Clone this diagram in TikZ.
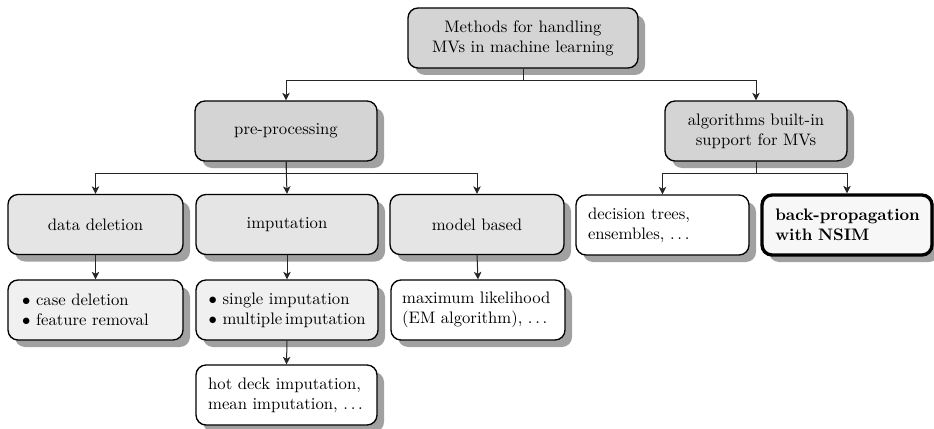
\documentclass[tikz,border=0pt]{standalone}
\usetikzlibrary{shadows,arrows.meta}
\begin{document}
\begin{tikzpicture}[x=0.6pt,y=-0.6pt,
  box/.style={draw=black, line width=0.8pt, rectangle, rounded corners=6pt,
    minimum height=36pt, inner sep=0pt, align=center, font=\normalsize,
    drop shadow={shadow xshift=4.2pt, shadow yshift=-4.2pt, fill=black!37, opacity=1}},
  conn/.style={draw=black!85, line width=0.6pt, -{Stealth[length=4.5pt,width=4.5pt,inset=1.2pt]}}]
\useasboundingbox (0,0) rectangle (934,429);
% nodes
\node[box, fill=black!17, minimum width=138pt] (top) at (523,38) {Methods for handling\\MVs in machine learning};
\node[box, fill=black!17, minimum width=109.2pt] (pre) at (286,131) {pre-processing};
\node[box, fill=black!17, minimum width=109.2pt] (alg) at (756,131) {algorithms built-in\\support for MVs};
\node[box, fill=black!10, minimum width=105pt] (dd) at (95.5,224.5) {data deletion};
\node[box, fill=black!10, minimum width=109.2pt] (imp) at (287,224.5) {imputation};
\node[box, fill=black!10, minimum width=104.4pt] (mb) at (477,224.5) {model based};
\node[box, fill=white, minimum width=103.8pt, text width=89.4pt, align=left] (dt) at (662.5,225) {\mbox{decision trees,}\\\mbox{ensembles, $\dots$}};
\node[box, fill=black!3, line width=2pt, minimum width=102pt, text width=86pt, align=left] (bp) at (847,225) {\mbox{\textbf{back-propagation}}\\\mbox{\textbf{with NSIM}}};
\node[box, fill=black!6, minimum width=105pt, text width=88pt, align=left] (ddl) at (95.5,310) {\mbox{$\bullet$ case deletion}\\\mbox{$\bullet$ feature removal}};
\node[box, fill=black!6, minimum width=109.2pt, text width=94pt, align=left] (impl) at (287,310) {\mbox{$\bullet$ single imputation}\\\mbox{$\bullet$ multiple\,imputation}};
\node[box, fill=white, minimum width=104.4pt, text width=91pt, align=left] (ml) at (478,310) {\mbox{maximum likelihood}\\\mbox{(EM algorithm), $\dots$}};
\node[box, fill=white, minimum width=108.6pt, text width=94pt, align=left] (hd) at (286.5,395) {\mbox{hot deck imputation,}\\\mbox{mean imputation, $\dots$}};
% connectors
\draw[conn] (top.south) -- ++(0,12) -| (pre.north);
\draw[conn] (top.south) -- ++(0,12) -| (alg.north);
\draw[conn] (pre.south) -- ++(0,12) -| (dd.north);
\draw[conn] (pre.south) -- (imp.north);
\draw[conn] (pre.south) -- ++(0,12) -| (mb.north);
\draw[conn] (alg.south) -- ++(0,12) -| (dt.north);
\draw[conn] (alg.south) -- ++(0,12) -| (bp.north);
\draw[conn] (dd.south) -- (ddl.north);
\draw[conn] (imp.south) -- (impl.north);
\draw[conn] (mb.south) -- (ml.north);
\draw[conn] (impl.south) -- (hd.north);
\end{tikzpicture}
\end{document}
